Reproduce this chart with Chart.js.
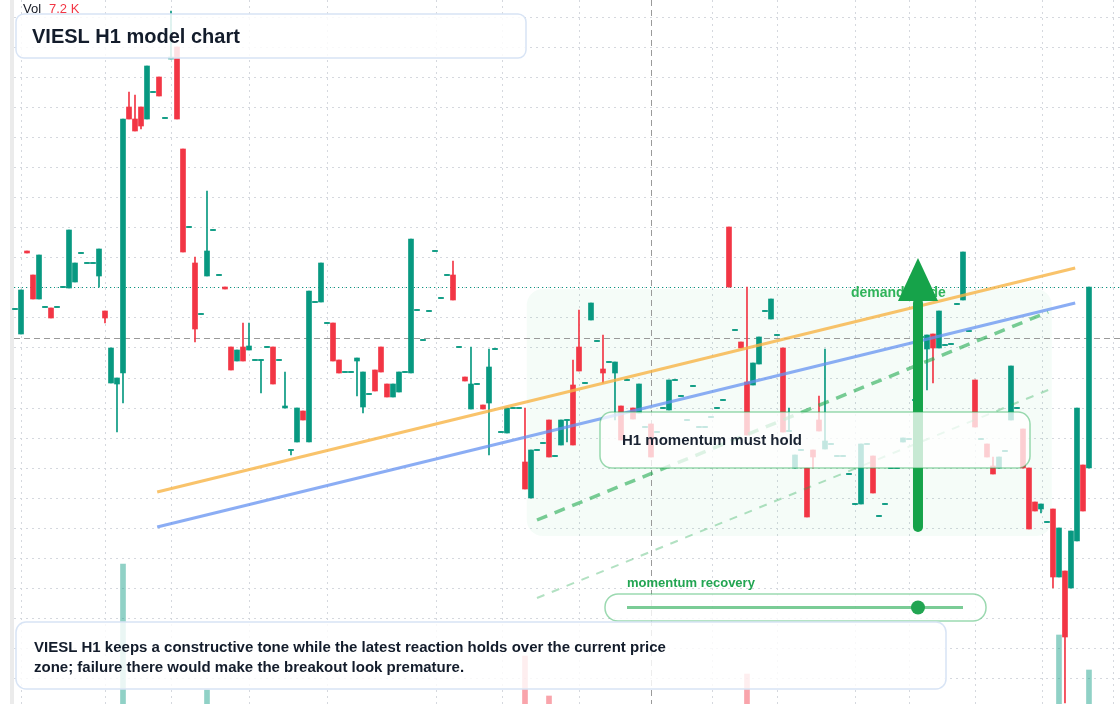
<!DOCTYPE html>
<html><head><meta charset="utf-8">
<script src="https://cdn.jsdelivr.net/npm/chart.js@4/dist/chart.umd.min.js"></script>
<style>html,body{margin:0;padding:0;background:#fff}#wrap{width:1120px;height:704px}</style>
</head><body><div id="wrap"><canvas id="c" width="1120" height="704"></canvas></div>
<script>
// candles [open, high, low, close], one per hour, index = bar number
const candles = [
[6.91,6.91,6.91,6.91],[6.66,7.10,6.66,7.10],[7.49,7.49,7.47,7.47],[7.25,7.25,7.01,7.01],[7.01,7.45,7.01,7.45],
[6.93,6.93,6.93,6.93],[6.92,6.92,6.82,6.82],[6.93,6.93,6.93,6.93],[7.13,7.13,7.13,7.13],[7.12,7.70,7.12,7.70],
[7.18,7.37,7.18,7.37],[7.47,7.47,7.47,7.47],[7.37,7.37,7.37,7.37],[7.37,7.37,7.37,7.37],[7.24,7.51,7.13,7.51],
[6.89,6.89,6.77,6.82],[6.17,6.52,6.17,6.52],[6.16,6.22,5.68,6.22],[6.27,8.81,5.97,8.81],[8.93,9.08,8.81,8.81],
[8.81,9.05,8.69,8.69],[8.93,8.93,8.71,8.74],[8.81,9.34,8.81,9.34],[9.08,9.08,9.08,9.08],[9.23,9.23,9.04,9.04],
[8.82,8.82,8.82,8.82],[9.41,9.89,9.41,9.43],[9.53,9.53,8.81,8.81],[8.51,8.51,7.48,7.48],[7.73,7.73,7.73,7.73],
[7.37,7.43,6.58,6.71],[6.86,6.86,6.86,6.86],[7.24,8.09,7.24,7.49],[7.70,7.70,7.70,7.70],[7.25,7.25,7.25,7.25],
[7.13,7.13,7.11,7.11],[6.53,6.53,6.30,6.30],[6.39,6.50,6.39,6.50],[6.53,6.77,6.39,6.39],[6.50,6.77,6.50,6.54],
[6.40,6.40,6.40,6.40],[6.40,6.40,6.07,6.40],[6.53,6.53,6.53,6.53],[6.53,6.53,6.16,6.16],[6.40,6.40,6.40,6.40],
[5.92,6.28,5.92,5.94],[5.50,5.50,5.45,5.50],[5.58,5.92,5.58,5.92],[5.89,5.89,5.80,5.80],[5.58,7.09,5.58,7.09],
[6.98,6.98,6.98,6.98],[6.98,7.37,6.98,7.37],[6.77,6.77,6.77,6.77],[6.77,6.77,6.39,6.39],[6.40,6.40,6.27,6.27],
[6.28,6.28,6.28,6.28],[6.28,6.28,6.28,6.28],[6.39,6.42,6.04,6.42],[5.93,6.28,5.87,6.28],[6.06,6.06,6.06,6.06],
[6.30,6.30,6.09,6.09],[6.53,6.53,6.28,6.28],[6.16,6.16,6.03,6.03],[6.03,6.16,6.03,6.16],[6.08,6.28,6.08,6.28],
[6.28,6.28,6.28,6.28],[6.27,7.61,6.27,7.61],[6.90,6.90,6.90,6.90],[6.60,6.60,6.60,6.60],[6.89,6.89,6.89,6.89],
[7.49,7.49,7.49,7.49],[7.02,7.02,7.02,7.02],[7.25,7.25,7.25,7.25],[7.25,7.39,7.00,7.00],[6.53,6.53,6.53,6.53],
[6.23,6.23,6.19,6.19],[5.91,6.53,5.91,6.16],[6.16,6.16,6.16,6.16],[5.95,5.95,5.91,5.91],[5.97,6.51,5.45,6.33],
[6.51,6.51,6.51,6.51],[5.68,5.68,5.68,5.68],[5.67,5.92,5.67,5.92],[5.92,5.92,5.92,5.92],[5.92,5.92,5.92,5.92],
[5.38,5.92,5.11,5.11],[5.02,5.50,5.02,5.50],[5.50,5.50,5.50,5.50],[5.57,5.57,5.57,5.57],[5.80,5.80,5.43,5.43],
[5.44,5.44,5.44,5.44],[5.55,5.80,5.55,5.80],[5.80,5.80,5.58,5.80],[6.15,6.40,5.55,5.55],[6.53,6.90,6.29,6.29],
[6.17,6.17,6.17,6.17],[6.80,6.97,6.80,6.97],[6.59,6.59,6.59,6.59],[6.31,6.65,6.17,6.27],[6.38,6.38,6.38,6.38],
[6.27,6.38,5.80,6.38],[5.94,5.94,5.60,5.60],[6.20,6.20,6.20,6.20],[5.92,5.92,5.81,5.81],[5.87,6.16,5.87,6.16],
[5.73,5.73,5.73,5.73],[5.76,5.76,5.43,5.43],[5.68,5.68,5.68,5.68],[5.92,5.92,5.92,5.92],[5.90,6.20,5.90,6.20],
[6.20,6.20,6.20,6.20],[6.04,6.04,6.04,6.04],[5.80,5.80,5.80,5.80],[6.14,6.14,6.14,6.14],[5.73,5.73,5.73,5.73],
[5.73,5.73,5.73,5.73],[5.83,5.83,5.83,5.83],[5.92,5.92,5.92,5.92],[6.00,6.00,6.00,6.00],[7.73,7.73,7.13,7.13],
[6.70,6.70,6.70,6.70],[6.58,6.58,6.52,6.52],[6.18,7.13,5.65,5.65],[6.15,6.37,6.15,6.37],[6.36,6.63,6.36,6.63],
[6.89,6.89,6.89,6.89],[6.81,7.01,6.81,7.01],[6.65,6.65,6.65,6.65],[6.52,6.52,5.68,5.68],[5.69,5.92,5.69,5.69],
[5.32,5.45,5.32,5.45],[5.50,5.50,5.50,5.50],[5.32,5.32,4.83,4.83],[5.50,5.50,5.32,5.43],[5.80,6.04,5.69,5.69],
[5.51,6.51,5.51,5.59],[5.56,5.56,5.56,5.56],[5.44,5.44,5.44,5.44],[5.44,5.44,5.44,5.44],[5.26,5.26,5.26,5.26],
[4.96,4.96,4.96,4.96],[4.96,5.56,4.96,5.56],[5.56,5.56,5.56,5.56],[5.44,5.44,5.07,5.07],[4.84,4.84,4.84,4.84],
[4.96,4.96,4.96,4.96],[5.32,5.32,5.32,5.32],[5.32,5.32,5.32,5.32],[5.58,5.62,5.58,5.62],[5.61,5.61,5.61,5.61],
[6.00,6.00,6.00,6.00],[6.63,6.63,6.63,6.63],[6.51,6.65,6.10,6.65],[6.66,6.66,6.17,6.52],[6.52,6.89,6.52,6.89],
[6.55,6.55,6.55,6.55],[6.56,6.56,6.56,6.56],[6.96,6.96,6.96,6.96],[7.00,7.48,7.00,7.48],[6.69,6.69,6.69,6.69],
[6.20,6.20,5.73,5.73],[5.61,5.61,5.61,5.61],[5.56,5.56,5.43,5.43],[5.34,5.43,5.26,5.26],[5.32,5.43,5.32,5.43],
[5.49,5.49,5.49,5.49],[5.80,6.34,5.80,6.34],[5.92,5.92,5.92,5.92],[5.71,5.71,5.32,5.32],[5.32,5.32,4.71,4.71],
[4.98,4.98,4.89,4.89],[4.91,4.96,4.87,4.96],[4.78,4.78,4.78,4.78],[4.91,4.91,4.12,4.23],[4.23,4.72,4.23,4.72],
[4.29,4.29,2.97,3.63],[4.12,4.69,4.12,4.69],[4.59,5.92,4.59,5.92],[5.35,5.35,4.89,4.89],[5.32,7.13,5.32,7.13]
];
// volume (thousands) on visible bars
const volumeBars = [[18,1.40],[32,0.14],[85,0.48],[89,0.08],[122,0.30],[174,0.69],[179,0.34]];
const priceTicks = [9.83,9.53,9.23,8.93,8.63,8.33,8.03,7.73,7.43,7.13,6.83,6.53,6.22,5.92,5.62,5.32,5.02,4.72,4.42,4.12,3.82,3.52,3.22];
const timeTicks = [1,15,26,39,52,70.2,81.2,94,116.2,127,140,149,160,171.2,183];
const lastClose = 7.13, crossPrice = 6.62, crossBar = 106;
const orangeLine = [[23.7,5.08],[176.7,7.32]];
const blueLine = [[23.7,4.73],[176.7,6.97]];
const greenDash = [[87,4.80],[172.2,6.88]];
const greenThin = [[87,4.02],[172.2,6.10]];
const demandZone = {x0:85.3,x1:172.8,top:7.11,bottom:4.64};
const arrow = {bar:150.5,from:4.73,to:7.42,head:6.99};
const volText = "7.2 K";
const title = "VIESL H1 model chart";
const noteLines = ["VIESL H1 keeps a constructive tone while the latest reaction holds over the current price","zone; failure there would make the breakout look premature."];

const UP="#089981", DN="#f23645";
const bodies = candles.map((c,i)=>({x:i,y:c[0]===c[3]?[c[0]-0.006,c[0]+0.006]:[c[0],c[3]]}));
const wicks = candles.map((c,i)=>({x:i,y:[c[2],c[1]===c[2]?c[1]+0.001:c[1]]}));
const colOf = c=> c[3]>=c[0]?UP:DN;

function rr(ctx,x,y,w,h,r){ctx.beginPath();ctx.roundRect(x,y,w,h,r);}
const overlay = {
  id:'overlay',
  beforeDatasetsDraw(ch){
    const ctx=ch.ctx,X=ch.scales.x,Y=ch.scales.y;
    ctx.save();
    ctx.fillStyle="#ebebeb";ctx.fillRect(10,0,4,704);
    ctx.strokeStyle="#d5d8de";ctx.lineWidth=1;ctx.setLineDash([2,4]);
    priceTicks.forEach(p=>{const y=Math.round(Y.getPixelForValue(p))+0.5;ctx.beginPath();ctx.moveTo(14,y);ctx.lineTo(1120,y);ctx.stroke();});
    timeTicks.forEach(t=>{const x=Math.round(X.getPixelForValue(t))+0.5;ctx.beginPath();ctx.moveTo(x,0);ctx.lineTo(x,704);ctx.stroke();});
    // demand zone
    ctx.setLineDash([]);
    ctx.fillStyle="rgba(34,197,94,0.045)";
    const zx=X.getPixelForValue(demandZone.x0),zx1=X.getPixelForValue(demandZone.x1),zy=Y.getPixelForValue(demandZone.top),zy1=Y.getPixelForValue(demandZone.bottom);
    rr(ctx,zx,zy,zx1-zx,zy1-zy,16);ctx.fill();
    // price lines
    ctx.strokeStyle=UP;ctx.setLineDash([1,3]);ctx.lineWidth=1;
    let y=Math.round(Y.getPixelForValue(lastClose))+0.5;ctx.beginPath();ctx.moveTo(14,y);ctx.lineTo(1120,y);ctx.stroke();
    ctx.strokeStyle="#9a9a9a";ctx.setLineDash([6,4]);
    y=Math.round(Y.getPixelForValue(crossPrice))+0.5;ctx.beginPath();ctx.moveTo(14,y);ctx.lineTo(1120,y);ctx.stroke();
    const cx=Math.round(X.getPixelForValue(crossBar))+0.5;ctx.beginPath();ctx.moveTo(cx,0);ctx.lineTo(cx,704);ctx.stroke();
    ctx.restore();
  },
  afterDatasetsDraw(ch){
    const ctx=ch.ctx,X=ch.scales.x,Y=ch.scales.y;
    const P=(b,p)=>[X.getPixelForValue(b),Y.getPixelForValue(p)];
    ctx.save();
    const seg=(l,col,w,dash)=>{ctx.strokeStyle=col;ctx.lineWidth=w;ctx.setLineDash(dash);ctx.lineCap='butt';const a=P(...l[0]),b=P(...l[1]);ctx.beginPath();ctx.moveTo(a[0],a[1]);ctx.lineTo(b[0],b[1]);ctx.stroke();};
    seg(greenThin,"rgba(34,170,80,0.35)",2,[8,8]);
    seg(greenDash,"rgba(34,170,80,0.6)",3.5,[11,8]);
    seg(orangeLine,"rgba(247,180,70,0.8)",3,[]);
    seg(blueLine,"rgba(100,145,240,0.75)",3,[]);
    ctx.setLineDash([]);
    // demand text
    ctx.fillStyle="#2fb35a";ctx.font="bold 14px 'Liberation Sans', Arial, sans-serif";ctx.textBaseline="middle";
    ctx.fillText("demand guide",851,293);
    // arrow
    const a0=P(arrow.bar,arrow.from),a1=P(arrow.bar,arrow.head),a2=P(arrow.bar,arrow.to);
    ctx.strokeStyle="#16a34a";ctx.lineWidth=10;ctx.lineCap='round';
    ctx.beginPath();ctx.moveTo(a0[0],a0[1]);ctx.lineTo(a1[0],a1[1]+2);ctx.stroke();
    ctx.fillStyle="#16a34a";ctx.beginPath();ctx.moveTo(a2[0],a2[1]);ctx.lineTo(a2[0]-20,a1[1]);ctx.lineTo(a2[0]+20,a1[1]);ctx.closePath();ctx.fill();
    // momentum box
    ctx.lineWidth=1.5;
    ctx.fillStyle="rgba(255,255,255,0.76)";ctx.strokeStyle="rgba(34,170,80,0.45)";
    rr(ctx,600,412,430,56,12);ctx.fill();ctx.stroke();
    ctx.fillStyle="#1a2332";ctx.font="bold 15px 'Liberation Sans', Arial, sans-serif";
    ctx.fillText("H1 momentum must hold",622,441);
    // slider
    ctx.fillStyle="#22a552";ctx.font="bold 13px 'Liberation Sans', Arial, sans-serif";
    ctx.fillText("momentum recovery",627,583);
    ctx.fillStyle="rgba(255,255,255,0.8)";ctx.strokeStyle="rgba(34,170,80,0.45)";
    rr(ctx,605,594,381,27,13);ctx.fill();ctx.stroke();
    ctx.strokeStyle="rgba(34,170,80,0.6)";ctx.lineWidth=3;ctx.lineCap='butt';
    ctx.beginPath();ctx.moveTo(627,607.5);ctx.lineTo(963,607.5);ctx.stroke();
    ctx.fillStyle="#22a552";ctx.beginPath();ctx.arc(918,607.5,7,0,Math.PI*2);ctx.fill();
    // note box
    ctx.lineWidth=1.5;ctx.fillStyle="rgba(255,255,255,0.82)";ctx.strokeStyle="#d8e4f5";
    rr(ctx,16,622,930,67,10);ctx.fill();ctx.stroke();
    ctx.fillStyle="#131c2b";ctx.font="bold 15px 'Liberation Sans', Arial, sans-serif";
    ctx.fillText(noteLines[0],34,648);ctx.fillText(noteLines[1],34,668);
    // title box
    ctx.fillStyle="rgba(255,255,255,0.85)";ctx.strokeStyle="#d8e4f5";
    rr(ctx,16,14,510,44,8);ctx.fill();ctx.stroke();
    ctx.fillStyle="#131c2b";ctx.font="bold 20px 'Liberation Sans', Arial, sans-serif";
    ctx.fillText(title,32,37);
    ctx.font="13px 'Liberation Sans', Arial, sans-serif";ctx.fillStyle="#131722";ctx.fillText("Vol",23,9);
    ctx.fillStyle="#f23645";ctx.fillText(volText,49,9);
    ctx.restore();
  }
};

new Chart(document.getElementById('c'),{
  type:'bar',
  data:{datasets:[
    {data:volumeBars.map(v=>({x:v[0],y:v[1]})),yAxisID:'v',barThickness:5,grouped:false,
     backgroundColor:volumeBars.map(v=>colOf(candles[v[0]])===UP?"rgba(8,153,129,0.45)":"rgba(242,54,69,0.45)")},
    {data:wicks,yAxisID:'y',barThickness:1,grouped:false,backgroundColor:candles.map(colOf)},
    {data:bodies,yAxisID:'y',barThickness:5,grouped:false,backgroundColor:candles.map(colOf)}
  ]},
  options:{responsive:false,animation:false,layout:{padding:0},
    plugins:{legend:{display:false},tooltip:{enabled:false}},
    scales:{
      x:{type:'linear',min:-2.5,max:184.17,display:false,offset:false},
      y:{min:2.96,max:10.0,display:false},
      v:{min:0,max:7.04,display:false}
    }},
  plugins:[overlay]
});
</script></body></html>
